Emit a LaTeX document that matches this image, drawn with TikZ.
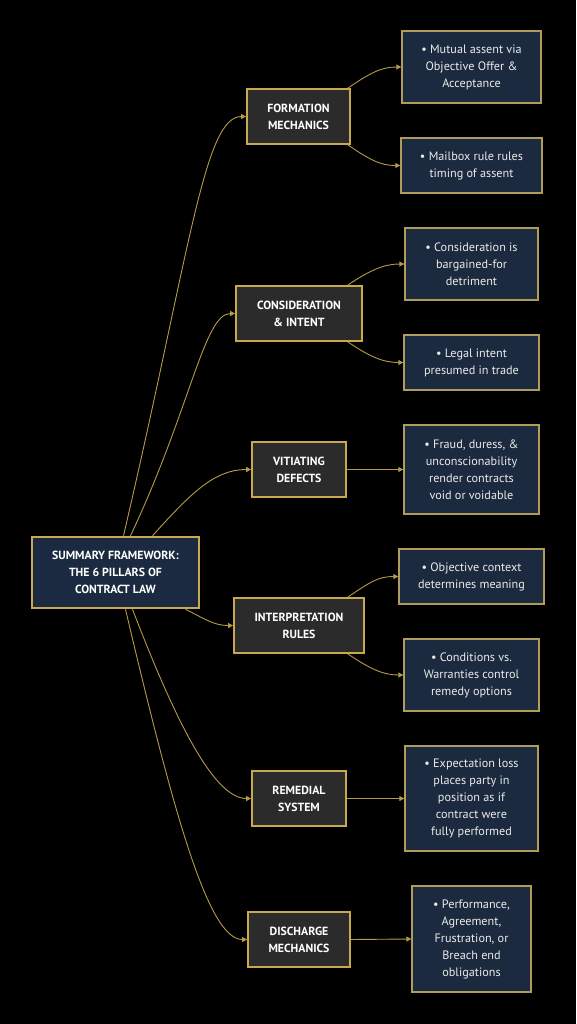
\documentclass[tikz,border=0pt]{standalone}
\usepackage{fontspec}
\setmainfont{PT Sans}
\usetikzlibrary{arrows.meta}
\definecolor{gold}{HTML}{C9A94D}
\definecolor{leafgold}{HTML}{B19C5A}
\definecolor{linkgold}{HTML}{B59A48}
\definecolor{rootnavy}{HTML}{1B2A40}
\definecolor{leafnavy}{HTML}{1B2A3E}
\definecolor{pillargray}{HTML}{2B2B2B}
\tikzset{
  rootbox/.style={draw=gold,line width=2.6pt,fill=rootnavy,text=white,align=center,
    inner sep=0pt,font=\bfseries\fontsize{11.8}{17}\selectfont},
  pillar/.style={draw=gold,line width=1.8pt,fill=pillargray,text=white,align=center,
    inner sep=0pt,minimum height=55,font=\bfseries\fontsize{11.8}{17}\selectfont},
  detail/.style={draw=leafgold,line width=1.4pt,fill=leafnavy,text=white!92!black,align=center,
    inner sep=0pt,font=\fontsize{12.2}{17}\selectfont},
  link/.style={draw=linkgold,line width=0.9pt,-{Triangle[length=5pt,width=5pt]}}
}
\begin{document}
\begin{tikzpicture}[x=1pt,y=-1pt]
  \fill[black] (0,0) rectangle (576,1024);
  \useasboundingbox (0,0) rectangle (576,1024);
  % root
  \node[rootbox,minimum width=167,minimum height=71] (root) at (115.5,572.5)
    {SUMMARY FRAMEWORK:\\THE 6 PILLARS OF\\CONTRACT LAW};
  % pillars
  \node[pillar,minimum width=103] (form) at (298.5,116.5) {FORMATION\\MECHANICS};
  \node[pillar,minimum width=126] (cons) at (299,313.5) {CONSIDERATION\\\& INTENT};
  \node[pillar,minimum width=94] (viti) at (299,469.5) {VITIATING\\DEFECTS};
  \node[pillar,minimum width=130] (interp) at (299,625.5) {INTERPRETATION\\RULES};
  \node[pillar,minimum width=94] (remed) at (299,798.5) {REMEDIAL\\SYSTEM};
  \node[pillar,minimum width=102] (disch) at (299,939.5) {DISCHARGE\\MECHANICS};
  % details
  \node[detail,minimum width=139,minimum height=72] (f1) at (471.5,67)
    {• Mutual assent via\\Objective Offer \&\\Acceptance};
  \node[detail,minimum width=141,minimum height=55] (f2) at (471.5,165.5)
    {• Mailbox rule rules\\timing of assent};
  \node[detail,minimum width=133,minimum height=72] (c1) at (471.5,264)
    {• Consideration is\\bargained-for\\detriment};
  \node[detail,minimum width=135,minimum height=55] (c2) at (471.5,362.5)
    {• Legal intent\\presumed in trade};
  \node[detail,minimum width=135,minimum height=89] (v1) at (471.5,469.5)
    {• Fraud, duress, \&\\unconscionability\\render contracts\\void or voidable};
  \node[detail,minimum width=145,minimum height=55] (i1) at (471.5,576.5)
    {• Objective context\\determines meaning};
  \node[detail,minimum width=135,minimum height=72] (i2) at (471.5,675)
    {• Conditions vs.\\Warranties control\\remedy options};
  \node[detail,minimum width=133,minimum height=105] (r1) at (471.5,798.5)
    {• Expectation loss\\places party in\\position as if\\contract were\\fully performed};
  \node[detail,minimum width=119,minimum height=106] (d1) at (471.5,939)
    {• Performance,\\Agreement,\\Frustration, or\\Breach end\\obligations};
  % root to pillars
  \draw[link] ([xshift=8pt]root.north) .. controls +(67,-287) and +(-42,0) .. (form.west);
  \draw[link] ([xshift=15pt]root.north) .. controls +(60,-127) and +(-31,0) .. (cons.west);
  \draw[link] ([xshift=37pt]root.north) .. controls +(38,-42) and +(-37,0) .. (viti.west);
  \draw[link] ([xshift=70pt]root.south) .. controls +(20,10) and +(-19,0) .. (interp.west);
  \draw[link] ([xshift=17pt]root.south) .. controls +(43,112) and +(-37,0) .. (remed.west);
  \draw[link] ([xshift=10pt]root.south) .. controls +(50,212) and +(-38,0) .. (disch.west);
  % pillars to details
  \draw[link] ([xshift=-3pt]form.north east) .. controls +(22,-15) and +(-20,0) .. (f1.west);
  \draw[link] ([xshift=-3pt]form.south east) .. controls +(22,15) and +(-20,0) .. (f2.west);
  \draw[link] ([xshift=-15pt]cons.north east) .. controls +(22,-15) and +(-20,0) .. (c1.west);
  \draw[link] ([xshift=-15pt]cons.south east) .. controls +(22,15) and +(-20,0) .. (c2.west);
  \draw[link] (viti.east) -- (v1.west);
  \draw[link] ([xshift=-17pt]interp.north east) .. controls +(22,-15) and +(-20,0) .. (i1.west);
  \draw[link] ([xshift=-17pt]interp.south east) .. controls +(22,15) and +(-20,0) .. (i2.west);
  \draw[link] (remed.east) -- (r1.west);
  \draw[link] (disch.east) -- (d1.west);
\end{tikzpicture}
\end{document}
